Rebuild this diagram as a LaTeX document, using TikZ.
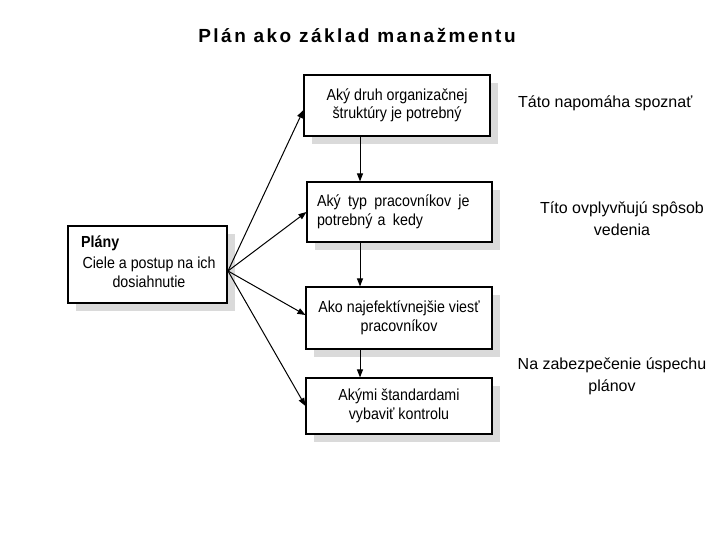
\documentclass[tikz,border=0pt]{standalone}
\usepackage{fontspec}
\setmainfont{Liberation Sans}
\newfontfamily\scanfont[FakeStretch=0.89]{Liberation Sans}
\usetikzlibrary{arrows.meta,calc}
\definecolor{shadowgray}{HTML}{DADADA}
\tikzset{
  box/.style={draw=black, line width=1.1pt, fill=white, rectangle, inner sep=0pt,
    font=\scanfont\fontsize{16}{18.5}\selectfont,
    preaction={fill=shadowgray, draw=none, transform canvas={xshift=8pt, yshift=-8pt}}},
  conn/.style={line width=1pt, -{Triangle[length=8pt,width=6pt]}},
  note/.style={font=\fontsize{16}{22}\selectfont, inner sep=0pt, align=center},
}
\begin{document}
\begin{tikzpicture}[x=1pt,y=-1pt]
\useasboundingbox (0,0) rectangle (720,540);
\node[font=\bfseries\fontsize{19}{24}\selectfont\addfontfeature{LetterSpace=13}, inner sep=0pt] (title) at (357,36) {Plán ako základ manažmentu};

\node[box, minimum width=186pt, minimum height=61pt, align=center] (b1) at (397,105.5) {Aký druh organizačnej\\štruktúry je potrebný};
\node[box, minimum width=185pt, minimum height=60pt, align=left, text width=165pt] (b2) at (399.5,212) {Aký\hspace{2pt} typ\hspace{2pt} pracovníkov\hspace{2pt} je\\potrebný a\hspace{2pt} kedy};
\node[box, minimum width=186pt, minimum height=62pt, align=center] (b3) at (399,318) {Ako najefektívnejšie viesť\\pracovníkov};
\node[box, minimum width=186pt, minimum height=56pt, align=center] (b4) at (399,406) {Akými štandardami\\vybaviť kontrolu};

\node[box, minimum width=159pt, minimum height=77pt] (pl) at (147.5,264.5) {};
\node[font=\scanfont\bfseries\fontsize{16}{18}\selectfont, anchor=west, inner sep=0pt] (plt) at (81,243) {Plány};
\node[font=\scanfont\fontsize{16}{19}\selectfont, align=center, inner sep=0pt] (pld) at (149,272.5) {Ciele a postup na ich\\dosiahnutie};

\coordinate (fan) at (228,271);
\coordinate (col) at (360,0);
\draw[conn] (fan) -- ([yshift=-4.5pt]b1.west);
\draw[conn] (fan) -- (b2.west);
\draw[conn] (fan) -- ([yshift=3pt]b3.west);
\draw[conn] (fan) -- (b4.west);

\draw[conn] (b1.south -| col) -- (b2.north -| col);
\draw[conn] (b2.south -| col) -- (b3.north -| col);
\draw[conn] (b3.south -| col) -- (b4.north -| col);

\node[note, anchor=west] (n1) at (518,103) {Táto napomáha spoznať};
\node[note] (n2) at (622,219) {Títo ovplyvňujú spôsob\\vedenia};
\node[note] (n3) at (612,376) {Na zabezpečenie úspechu\\plánov};
\end{tikzpicture}
\end{document}
